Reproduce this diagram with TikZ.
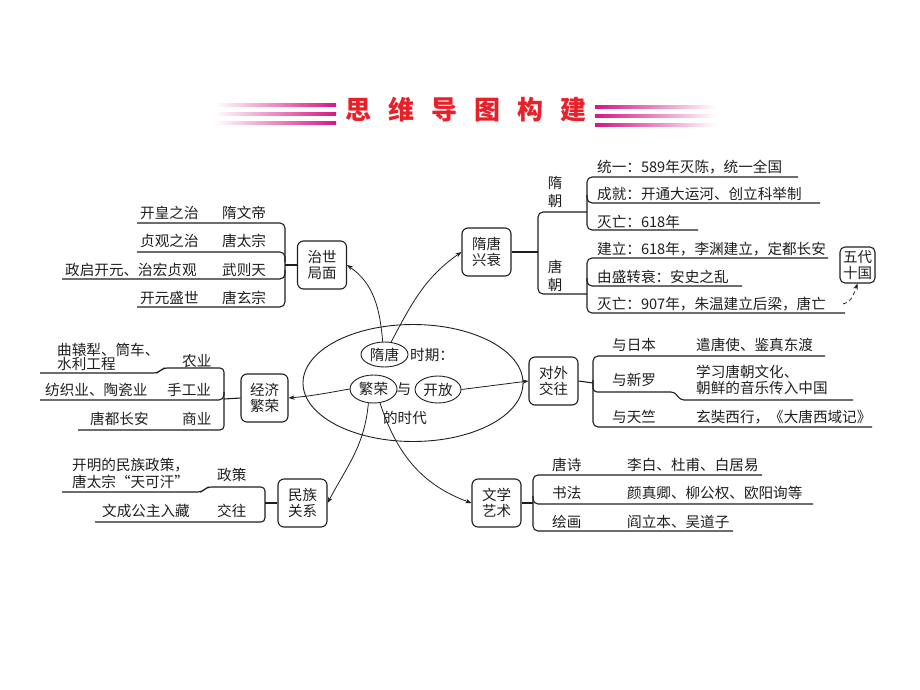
\documentclass[tikz,border=0pt]{standalone}
\usepackage{fontspec}
\newfontfamily\cjk{Noto Sans CJK SC}
\usetikzlibrary{shapes.geometric,arrows.meta}
\definecolor{ttlred}{RGB}{232,32,42}
\definecolor{ttlmag}{RGB}{214,22,130}
\definecolor{ink}{RGB}{30,30,30}
\begin{document}
\begin{tikzpicture}[x=1pt,y=-1pt,
  every node/.style={font=\cjk\fontsize{14.6}{17}\selectfont, text=ink},
  box/.style={draw=ink, line width=1.1pt, rounded corners=6pt, minimum width=49pt, minimum height=48pt, align=center, inner sep=0pt, font=\cjk\fontsize{14.5}{16.5}\selectfont},
  txt/.style={anchor=west, inner sep=0pt},
  br/.style={draw=ink, line width=1.1pt, rounded corners=5pt},
  oval/.style={draw=ink, line width=0.9pt, ellipse, inner sep=0pt},
  arr/.style={draw=ink, line width=0.8pt, -{Stealth[length=6pt,width=4.5pt]}}]
\useasboundingbox (0,0) rectangle (920,690);

% title
\node (title) at (466,110) {\cjk\bfseries\fontsize{26}{28}\selectfont\color{ttlred}思\hspace{17pt}维\hspace{17pt}导\hspace{17pt}图\hspace{17pt}构\hspace{17pt}建};
\foreach \yy in {105,114,123} {
  \shade[left color=white, right color=ttlmag] (215,\yy-1.4) rectangle (336,\yy+1.4);
  \shade[left color=ttlmag, right color=white] (595,\yy+0.6) rectangle (716,\yy+3.4);
}

% centre
\node (outer) [oval, minimum width=220pt, minimum height=117pt] at (413,383) {};
\node (st) [oval, minimum width=47pt, minimum height=25pt] at (384.5,354.5) {隋唐};
\node (sq) [txt] at (410,355) {时期：};
\node (fr) [oval, minimum width=47pt, minimum height=28pt] at (373.5,389) {繁荣};
\node (yu) at (404,389) {与};
\node (kf) [oval, minimum width=46pt, minimum height=27pt] at (438,389.5) {开放};
\node (sd) at (405,418) {的时代};

% boxes
\node (zs) [box] at (322,265) {治世\\局面};
\node (sx) [box] at (486.5,252) {隋唐\\兴衰};
\node (wd) [box, minimum width=35pt, minimum height=36pt, rounded corners=5pt] at (857.5,265) {五代\\十国};
\node (dw) [box] at (553.5,381) {对外\\交往};
\node (jj) [box, minimum width=47pt] at (264.5,398) {经济\\繁荣};
\node (mz) [box] at (302.5,503) {民族\\关系};
\node (wx) [box] at (496.5,503) {文学\\艺术};

% arrows
\draw[arr] (st.98) to[out=95,in=-35] (zs.east);
\draw[arr] (st.62) to[out=62,in=-145] (sx.west);
\draw[arr] (fr.west) to[out=-170,in=5] (jj.east);
\draw[arr] (kf.east) -- (dw.west);
\draw[arr] (fr.250) to[out=-95,in=62] (mz.east);
\draw[arr] (fr.295) to[out=-72,in=160] (wx.west);
\coordinate (dstart) at (843,304);
\draw[arr, dashed, dash pattern=on 4pt off 3pt] (dstart) to[out=15,in=-110] (wd.south);

% 治世局面 branches
\draw[br] (zs.west) -- (285,265);
\draw[br] (137,223) -- (285,223) -- (285,307) -- (137,307);
\draw[br] (137,252) -- (285,252) -- (285,262);
\draw[br] (62,279) -- (285,279) -- (285,270);
\node[txt] (z1) at (140,213) {开皇之治};
\node[txt] (z1b) at (222,213) {隋文帝};
\node[txt] (z2) at (140,241) {贞观之治};
\node[txt] (z2b) at (222,241) {唐太宗};
\node[txt] (z3) at (65,270) {政启开元、治宏贞观};
\node[txt] (z3b) at (222,270) {武则天};
\node[txt] (z4) at (140,298) {开元盛世};
\node[txt] (z4b) at (222,298) {唐玄宗};

% 隋唐兴衰 branches
\draw[br] (sx.east) -- (538,252);
\draw[br] (587,212) -- (538,212) -- (538,294) -- (587,294);
\draw[br] (798,177) -- (587,177) -- (587,230) -- (698,230);
\draw[br] (820,203) -- (587,203) -- (587,195);
\draw[br] (828,258) -- (587,258) -- (587,313) -- (845,313);
\draw[br] (742,286) -- (587,286) -- (587,278);
\node[align=center, font=\cjk\fontsize{14.5}{17.5}\selectfont] (sui) at (555,192) {隋\\朝};
\node[align=center, font=\cjk\fontsize{14.5}{18}\selectfont] (tang) at (555,276) {唐\\朝};
\node[txt] (s1) at (597,167) {统一：589年灭陈，统一全国};
\node[txt] (s2) at (597,194) {成就：开通大运河、创立科举制};
\node[txt] (s3) at (597,222) {灭亡：618年};
\node[txt] (t1) at (597,249) {建立：618年，李渊建立，定都长安};
\node[txt] (t2) at (597,277) {由盛转衰：安史之乱};
\node[txt] (t3) at (597,304) {灭亡：907年，朱温建立后梁，唐亡};

% 对外交往 branches
\draw[br] (dw.east) -- (593,383);
\draw[br] (825,356) -- (593,356) -- (593,427) -- (872,427);
\draw[br, rounded corners=4pt] (593,380) -- (593,392) -- (675,392) -- (680,400) -- (853,400);
\node[txt] (d1) at (612,345) {与日本};
\node[txt] (d1b) at (696,345) {遣唐使、鉴真东渡};
\node[txt] (d2) at (612,380) {与新罗};
\node[txt, align=left, font=\cjk\fontsize{14.6}{16}\selectfont] (d2b) at (696,380) {学习唐朝文化、\\朝鲜的音乐传入中国};
\node[txt] (d3) at (612,417) {与天竺};
\node[txt] (d3b) at (696,417) {玄奘西行，《大唐西域记》};

% 经济繁荣 branches
\draw[br] (jj.west) -- (224,399);
\draw[br, rounded corners=4pt] (40,373) -- (158,373) -- (163,368) -- (224,368) -- (224,430) -- (78,430);
\draw[br] (40,400) -- (224,400) -- (224,392);
\node[txt, align=left, font=\cjk\fontsize{14.6}{14}\selectfont] (j1) at (57,356.5) {曲辕犁、筒车、\\水利工程};
\node[txt] (j1b) at (182,361) {农业};
\node[txt] (j2) at (45,390) {纺织业、陶瓷业};
\node[txt] (j2b) at (167,390) {手工业};
\node[txt] (j3) at (90,419) {唐都长安};
\node[txt] (j3b) at (182,419) {商业};

% 民族关系 branches
\draw[br] (mz.west) -- (265,503);
\draw[br, rounded corners=4pt] (62,492) -- (202,492) -- (207,487) -- (265,487) -- (265,522) -- (95,522);
\node[txt, align=left, font=\cjk\fontsize{14.6}{17}\selectfont] (m1) at (72,473.5) {开明的民族政策，\\唐太宗“天可汗”};
\node[txt] (m1b) at (217,475) {政策};
\node[txt] (m2) at (102,511) {文成公主入藏};
\node[txt] (m2b) at (217,511) {交往};

% 文学艺术 branches
\draw[br] (wx.east) -- (533,503);
\draw[br] (762,475) -- (533,475) -- (533,531) -- (733,531);
\draw[br] (813,504) -- (533,504) -- (533,496);
\node[txt] (w1) at (552,465) {唐诗};
\node[txt] (w1b) at (627,465) {李白、杜甫、白居易};
\node[txt] (w2) at (552,493) {书法};
\node[txt] (w2b) at (627,493) {颜真卿、柳公权、欧阳询等};
\node[txt] (w3) at (552,522) {绘画};
\node[txt] (w3b) at (627,522) {阎立本、吴道子};
\end{tikzpicture}
\end{document}
